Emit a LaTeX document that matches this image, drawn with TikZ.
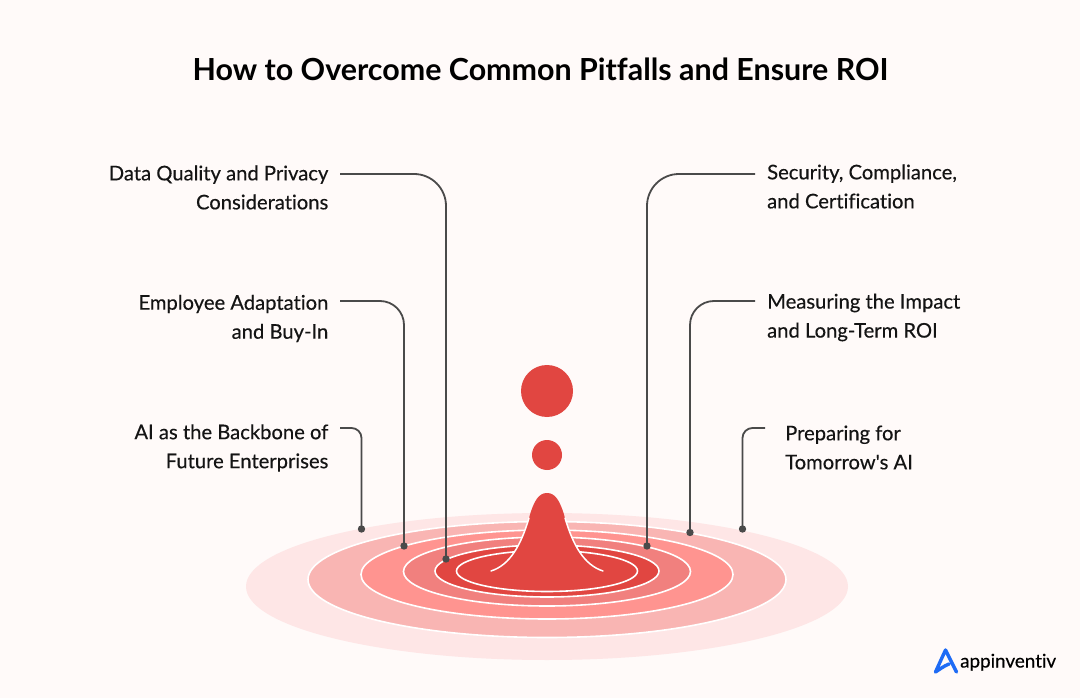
\documentclass[tikz,border=0pt]{standalone}
\usepackage{fontspec}
\setmainfont[Ligatures=NoCommon]{Lato}
\newfontfamily\medfont[FakeBold=0.35,Ligatures=NoCommon]{Lato}
\definecolor{bgc}{HTML}{FFFAF9}
\definecolor{r1}{HTML}{FEE6E6}
\definecolor{r2}{HTML}{F9B5B3}
\definecolor{r3}{HTML}{FF9490}
\definecolor{r4}{HTML}{F1807E}
\definecolor{r5}{HTML}{E14641}
\definecolor{ln}{HTML}{4A4A4A}
\definecolor{logoblue}{HTML}{1E6BF5}
\tikzset{
  x=1pt,y=-1pt,
  ringa/.style={fill=#1,draw=white,line width=1.6pt},
  lab/.style={font=\medfont\fontsize{20.2}{29}\selectfont,text=black!92,inner sep=0pt},
  labl/.style={lab,align=right,anchor=east},
  labr/.style={lab,align=left,anchor=west},
  dotn/.style={circle,fill=ln,minimum size=7.4pt,inner sep=0pt},
  leader/.style={draw=ln,line width=1.8pt},
}
\begin{document}
\begin{tikzpicture}
\useasboundingbox (0,0) rectangle (1080,698);
\fill[bgc] (0,0) rectangle (1080,698);
\node[font=\bfseries\fontsize{30.4}{36}\selectfont,text=black,inner sep=0pt] (title) at (540.5,69) {How to Overcome Common Pitfalls and Ensure ROI};

% rings
\fill[r1] (547,586.5) ellipse [x radius=301,y radius=73.5];
\path[ringa=r2] (547,579.5) ellipse [x radius=239,y radius=58];
\path[ringa=r3] (547,574.5) ellipse [x radius=186,y radius=44.5];
\path[ringa=r4] (547,571.5) ellipse [x radius=143.5,y radius=34.5];
\path[ringa=r5] (547,571) ellipse [x radius=112,y radius=26];
\path[ringa=r5] (547,571) ellipse [x radius=90.5,y radius=20.5];

% drop
\fill[r5] (491,571) .. controls (510,565) and (521,545) .. (529,518)
  .. controls (534,500) and (539,493) .. (547,493)
  .. controls (555,493) and (560,500) .. (565,518)
  .. controls (573,545) and (584,565) .. (603,571) -- cycle;
\draw[white,line width=1.5pt,line cap=round] (491,571) .. controls (510,565) and (521,545) .. (529,518)
  (565,518) .. controls (573,545) and (584,565) .. (603,571);
\fill[r5] (547,391) circle [radius=26];
\fill[r5] (547,455) circle [radius=15];

% labels
\node[labl] (t1) at (328.5,187.5) {Data Quality and Privacy\\Considerations};
\node[labl] (t2) at (328.5,318.5) {Employee Adaptation\\and Buy-In};
\node[labl] (t3) at (328.5,448) {AI as the Backbone of\\Future Enterprises};
\node[labr] (t4) at (767,186.5) {Security, Compliance,\\and Certification};
\node[labr] (t5) at (767,317.5) {Measuring the Impact\\and Long-Term ROI};
\node[labr] (t6) at (785,447.5) {Preparing for\\Tomorrow's AI};

% dots
\node[dotn] (d1) at (446,559) {};
\node[dotn] (d2) at (404,546) {};
\node[dotn] (d3) at (361.5,529) {};
\node[dotn] (d4) at (647,546) {};
\node[dotn] (d5) at (690,532.5) {};
\node[dotn] (d6) at (742.5,529) {};

% connector starts
\coordinate (s1) at (340,174);
\coordinate (s2) at (340,301);
\coordinate (s3) at (340,428);
\coordinate (s4) at (755,174);
\coordinate (s5) at (755,301);
\coordinate (s6) at (765,428);

\draw[leader,rounded corners=32pt] (s1) -| (d1.center);
\draw[leader,rounded corners=24pt] (s2) -| (d2.center);
\draw[leader,rounded corners=10pt] (s3) -| (d3.center);
\draw[leader,rounded corners=32pt] (s4) -| (d4.center);
\draw[leader,rounded corners=24pt] (s5) -| (d5.center);
\draw[leader,rounded corners=10pt] (s6) -| (d6.center);

% logo
\draw[logoblue,line width=3.4pt,line join=round,line cap=round] (956.5,672) -- (945.5,650) -- (935.5,672) .. controls (940,669) and (944,666) .. (949,664);
\node[font=\medfont\fontsize{18.8}{24}\selectfont,text=black,inner sep=0pt,anchor=base west] (logo) at (960,667.5) {appinventiv};
\end{tikzpicture}
\end{document}
